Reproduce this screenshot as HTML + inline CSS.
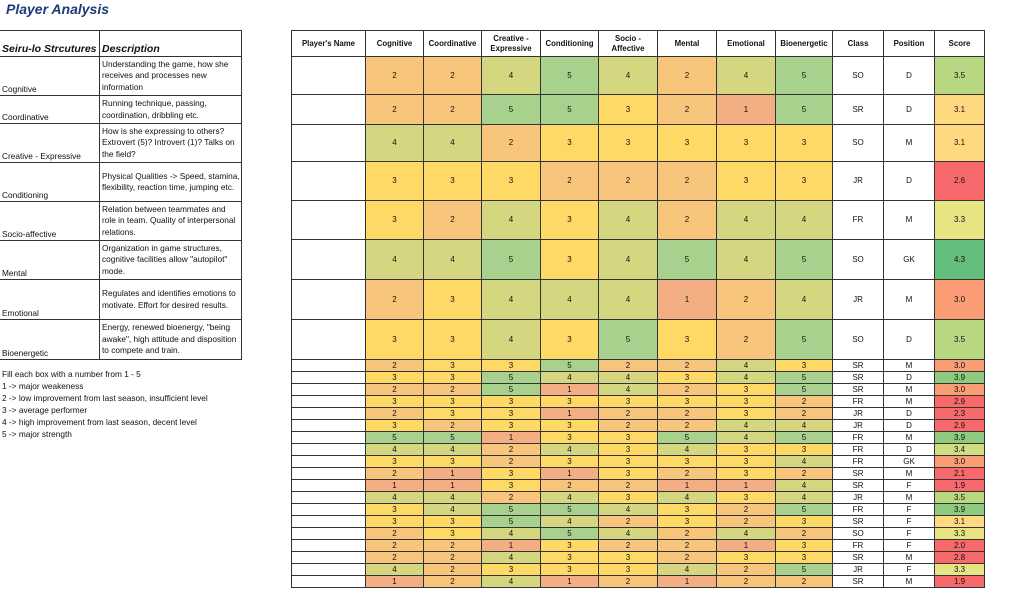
<!DOCTYPE html>
<html><head><meta charset="utf-8"><style>
body{margin:0;width:1022px;height:593px;background:#fff;position:relative;overflow:hidden;font-family:"Liberation Sans",Arial,sans-serif;color:#111}
.t{position:absolute;left:6px;top:1px;font-size:14px;font-weight:bold;font-style:italic;color:#1f3a78}
.c{position:absolute;box-sizing:border-box;border-right:1px solid #333;border-bottom:1px solid #333;font-size:8px;display:flex;align-items:center;justify-content:center;text-align:center;line-height:10px}
.l{position:absolute;box-sizing:border-box;font-size:8.3px;line-height:11.5px;padding-left:2px}
.note{position:absolute;left:2px;font-size:8.3px}
</style></head><body>
<div class="t">Player Analysis</div>
<div id="root"></div>
<script>
const R=document.getElementById('root');
function add(cls,x,y,w,h,txt,st){const d=document.createElement('div');d.className=cls;d.style.left=x+'px';d.style.top=y+'px';d.style.width=w+'px';d.style.height=h+'px';if(st)d.style.cssText+=st;d.innerHTML=txt;R.appendChild(d);return d;}
const lrows=[[30,57,'<b><i>Seiru-lo Strcutures</i></b>','<b><i>Description</i></b>'],
[57,96,'Cognitive','Understanding the game, how she receives and processes new information'],
[96,124,'Coordinative','Running technique, passing, coordination, dribbling etc.'],
[124,163,'Creative - Expressive','How is she expressing to others? Extrovert (5)? Introvert (1)? Talks on the field?'],
[163,202,'Conditioning','Physical Qualities -> Speed, stamina, flexibility, reaction time, jumping etc.'],
[202,241,'Socio-affective','Relation between teammates and role in team. Quality of interpersonal relations.'],
[241,280,'Mental','Organization in game structures, cognitive facilities allow "autopilot" mode.'],
[280,320,'Emotional','Regulates and identifies emotions to motivate. Effort for desired results.'],
[320,360,'Bioenergetic','Energy, renewed bioenergy, "being awake", high attitude and disposition to compete and train.']];
lrows.forEach((r,i)=>{const h=r[1]-r[0];
 const a=add('l',0,r[0],99,h,'','border-top:'+(i==0?'1px solid #333':'0')+';border-bottom:1px solid #333;display:flex;align-items:flex-end;'+(i==0?'font-size:10.5px;padding-bottom:1px;':''));a.innerHTML='<span>'+r[2]+'</span>';
 const b=add('l',99,r[0],143,h,'','border-left:1px solid #333;border-right:1px solid #333;border-top:'+(i==0?'1px solid #333':'0')+';border-bottom:1px solid #333;display:flex;align-items:'+(i==0?'flex-end':'center')+';'+(i==0?'font-size:10.5px;padding-bottom:1px;':''));b.innerHTML='<span>'+r[3]+'</span>';});
['Fill each box with a number from 1 - 5','1 -> major weakeness','2 -> low improvement from last season, insufficient level','3 -> average performer','4 -> high improvement from last season, decent level','5 -> major strength'].forEach((s,i)=>{add('note',2,369+i*12,300,12,s.replace(/>/g,'&gt;'));});
const X=[291,366,424,482,541,599,658,717,776,833,884,935,985];
const H=["Player's Name",'Cognitive','Coordinative','Creative -<br>Expressive','Conditioning','Socio -<br>Affective','Mental','Emotional','Bioenergetic','Class','Position','Score'];
const data=[
[2,2,4,5,4,2,4,5,'SO','D',3.5],[2,2,5,5,3,2,1,5,'SR','D',3.1],[4,4,2,3,3,3,3,3,'SO','M',3.1],[3,3,3,2,2,2,3,3,'JR','D',2.6],
[3,2,4,3,4,2,4,4,'FR','M',3.3],[4,4,5,3,4,5,4,5,'SO','GK',4.3],[2,3,4,4,4,1,2,4,'JR','M',3.0],[3,3,4,3,5,3,2,5,'SO','D',3.5],
[2,3,3,5,2,2,4,3,'SR','M',3.0],[3,3,5,4,4,3,4,5,'SR','D',3.9],[2,2,5,1,4,2,3,5,'SR','M',3.0],[3,3,3,3,3,3,3,2,'FR','M',2.9],
[2,3,3,1,2,2,3,2,'JR','D',2.3],[3,2,3,3,2,2,4,4,'JR','D',2.9],[5,5,1,3,3,5,4,5,'FR','M',3.9],[4,4,2,4,3,4,3,3,'FR','D',3.4],
[3,3,2,3,3,3,3,4,'FR','GK',3.0],[2,1,3,1,3,2,3,2,'SR','M',2.1],[1,1,3,2,2,1,1,4,'SR','F',1.9],[4,4,2,4,3,4,3,4,'JR','M',3.5],
[3,4,5,5,4,3,2,5,'FR','F',3.9],[3,3,5,4,2,3,2,3,'SR','F',3.1],[2,3,4,5,4,2,4,2,'SO','F',3.3],[2,2,1,3,2,2,1,3,'FR','F',2.0],
[2,2,4,3,3,2,3,3,'SR','M',2.8],[4,2,3,3,3,4,2,5,'JR','F',3.3],[1,2,4,1,2,1,2,2,'SR','M',1.9]];
const Y=[30,57,95,125,162,201,240,280,320,360];for(let i=1;i<=19;i++)Y.push(360+i*12);
const VC={1:'#f4ae84',2:'#f8c57c',3:'#ffd966',4:'#d5d680',5:'#a9d18e'};
function hex(h){return [1,3,5].map(i=>parseInt(h.substr(i,2),16));}
function sc(v){const st=[[1.9,'#f8696b'],[2.9,'#f8696b'],[3.0,'#fa9d75'],[3.1,'#ffd980'],[3.3,'#e6e483'],[3.5,'#b9d780'],[4.3,'#63be7b']];
 for(let i=0;i<st.length-1;i++){if(v<=st[i+1][0]){const t=(v-st[i][0])/(st[i+1][0]-st[i][0]);const a=hex(st[i][1]),b=hex(st[i+1][1]);return 'rgb('+a.map((x,k)=>Math.round(x+(b[k]-x)*t)).join(',')+')';}}return st[st.length-1][1];}
for(let j=0;j<12;j++){add('c',X[j],30,X[j+1]-X[j],27,'<b>'+H[j]+'</b>','border-top:1px solid #333;background:#fff;font-size:7.8px;'+(j==0?'border-left:1px solid #333;':''));}
data.forEach((r,i)=>{const y=Y[i+1],h=Y[i+2]-y;
 add('c',X[0],y,X[1]-X[0],h,'','border-left:1px solid #333');
 for(let j=0;j<11;j++){const v=r[j];let bg='#fff',txt=v;
  if(j<8)bg=VC[v];else if(j==10){bg=sc(v);txt=v.toFixed(1);}
  add('c',X[j+1],y,X[j+2]-X[j+1],h,txt,'background:'+bg+(i>=8?';line-height:11px':''));}
});
</script>
</body></html>
